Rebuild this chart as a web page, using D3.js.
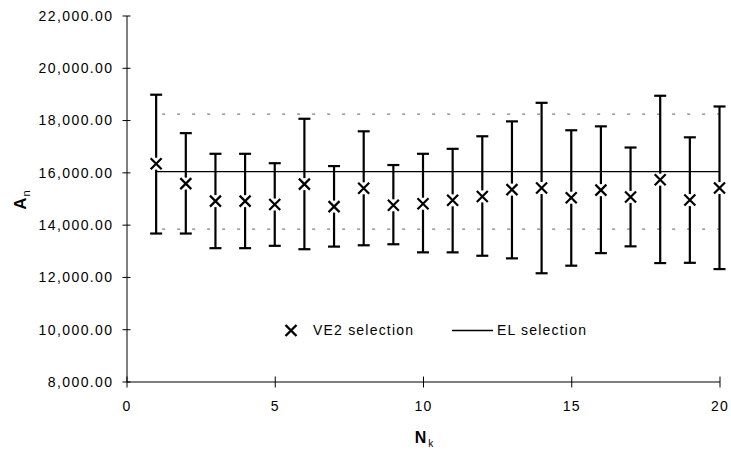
<!DOCTYPE html>
<html><head><meta charset="utf-8">
<script src="https://cdn.jsdelivr.net/npm/d3@7"></script>
<style>
body{margin:0;background:#fff;}
text{font-family:"Liberation Sans",Arial,sans-serif;}
</style></head>
<body><svg id="c" width="731" height="451"></svg>
<script>
const nk = [1,2,3,4,5,6,7,8,9,10,11,12,13,14,15,16,17,18,19,20];
const ve2Mean = [16330,15570,14900,14900,14770,15550,14690,15390,14740,14800,14930,15080,15340,15400,15030,15320,15060,15720,14940,15400];
const ve2Upper = [18970,17500,16710,16710,16350,18050,16240,17570,16280,16710,16900,17380,17950,18660,17610,17760,16950,18930,17340,18520];
const ve2Lower = [13660,13660,13100,13100,13190,13060,13160,13210,13250,12940,12940,12810,12710,12140,12430,12910,13170,12530,12540,12300];
const elMean = 16030;
const elUpper = 18230;
const elLower = 13830;
const yTicks = [8000,10000,12000,14000,16000,18000,20000,22000];
const xTicks = [0,5,10,15,20];

const svg = d3.select("#c");
const x = d3.scaleLinear().domain([0,20]).range([126.5,719.5]);
const y = d3.scaleLinear().domain([8000,22000]).range([381.5,15.5]);
const fmt = d3.format(",.2f");

// y axis
const ya = svg.append("g").attr("transform","translate(126.5,0)")
  .call(d3.axisLeft(y).tickValues(yTicks).tickSize(0).tickFormat(fmt));
ya.select(".domain").attr("stroke","#000");
ya.selectAll(".tick line").attr("x1",-4).attr("x2",4).attr("stroke","#000");
ya.selectAll(".tick text").attr("x",-13).attr("dy","0.35em").attr("font-size",14).attr("letter-spacing","1.4px")
  .attr("font-family","Liberation Sans, Arial, sans-serif").attr("fill","#000");

// x axis
const xa = svg.append("g").attr("transform","translate(0,381.5)")
  .call(d3.axisBottom(x).tickValues(xTicks).tickSize(0).tickFormat(d3.format("d")));
xa.select(".domain").attr("stroke","#000");
xa.selectAll(".tick line").attr("y1",-5).attr("y2",6).attr("stroke","#000");
xa.selectAll(".tick text").attr("y",20).attr("dy","0.71em").attr("font-size",14).attr("letter-spacing","1.3px")
  .attr("font-family","Liberation Sans, Arial, sans-serif").attr("fill","#000");

// EL lines
const g = svg.append("g");
g.append("line").attr("x1",x(nk[0])).attr("x2",x(nk[nk.length-1])).attr("y1",y(elMean)).attr("y2",y(elMean))
  .attr("stroke","#000").attr("stroke-width",1.3);
[elUpper, elLower].forEach(v=>{
  g.append("line").attr("x1",x(nk[0])+6).attr("x2",x(nk[nk.length-1])).attr("y1",y(v)).attr("y2",y(v))
   .attr("stroke","#808080").attr("stroke-width",1.3).attr("stroke-dasharray","3,12");
});

// error bars
nk.forEach((k,i)=>{
  const cx = x(k);
  const eb = g.append("g").attr("stroke","#000").attr("stroke-width",2.2);
  eb.append("line").attr("x1",cx).attr("x2",cx).attr("y1",y(ve2Upper[i])).attr("y2",y(ve2Lower[i]));
  eb.append("line").attr("x1",cx-6).attr("x2",cx+6).attr("y1",y(ve2Upper[i])).attr("y2",y(ve2Upper[i]));
  eb.append("line").attr("x1",cx-6).attr("x2",cx+6).attr("y1",y(ve2Lower[i])).attr("y2",y(ve2Lower[i]));
  const cy = y(ve2Mean[i]);
  eb.append("rect").attr("x",cx-6).attr("y",cy-6).attr("width",12).attr("height",12).attr("fill","#fff").attr("stroke","none");
  eb.append("path").attr("d",`M${cx-5.5},${cy-5.5}L${cx+5.5},${cy+5.5}M${cx-5.5},${cy+5.5}L${cx+5.5},${cy-5.5}`)
    .attr("stroke-width",2.2);
});

// axis titles
const yt = svg.append("text").attr("transform","translate(26,200) rotate(-90)").attr("text-anchor","middle")
  .attr("font-size",17).attr("font-weight","bold");
yt.append("tspan").text("A");
yt.append("tspan").attr("font-size",11).attr("dy",4).attr("dx",1).attr("font-weight","normal").text("n");
const xt = svg.append("text").attr("x",424).attr("y",443).attr("text-anchor","middle")
  .attr("font-size",16).attr("font-weight","bold");
xt.append("tspan").text("N");
xt.append("tspan").attr("font-size",10).attr("dy",4).attr("dx",2).attr("font-weight","normal").text("k");

// legend
const lg = svg.append("g");
const mx=291, my=330.5;
lg.append("path").attr("d",`M${mx-5.5},${my-5.5}L${mx+5.5},${my+5.5}M${mx-5.5},${my+5.5}L${mx+5.5},${my-5.5}`)
  .attr("stroke","#000").attr("stroke-width",2.4);
lg.append("text").attr("x",313).attr("y",my).attr("dy","0.35em").attr("font-size",14).attr("letter-spacing","1.2px").text("VE2 selection");
lg.append("line").attr("x1",452).attr("x2",493).attr("y1",my).attr("y2",my).attr("stroke","#000").attr("stroke-width",1.3);
lg.append("text").attr("x",497).attr("y",my).attr("dy","0.35em").attr("font-size",14).attr("letter-spacing","1.2px").text("EL selection");
</script></body></html>
